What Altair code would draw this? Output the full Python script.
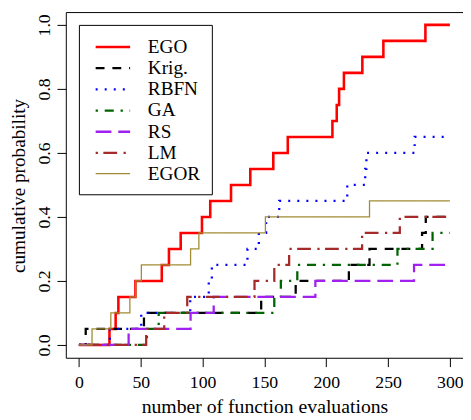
import altair as alt
import pandas as pd

# ---- data ----
series = ["EGO", "Krig.", "RBFN", "GA", "RS", "LM", "EGOR"]
colors = ["#ff0000", "#000000", "#0000ff", "#006400", "#a020f0", "#a52a2a", "#a08c32"]
dashes = [[1, 0], [9, 8], [2, 7.2], [2.3, 6.9, 9.2, 6.9], [16, 7], [2.3, 5.5, 14, 6.5], [1, 0]]
widths = [2.6, 2.3, 2.3, 2.3, 2.3, 2.3, 1.3]

# cumulative probability levels (1 of 20 problems each)
levels = [0.05, 0.10, 0.15, 0.20, 0.25, 0.30, 0.35, 0.40, 0.45, 0.50,
          0.55, 0.60, 0.65, 0.70, 0.75, 0.80, 0.85, 0.90, 0.95, 1.00]

# number of function evaluations at which each level is reached
evals_ego = [24.7, 29.7, 31.9, 45.7, 67, 72.8, 82.3, 99.5, 106.2, 123, 138.6,
             157.2, 168.9, 205, 208.5, 210.4, 214.3, 229.2, 246.2, 280.2]
evals_krig = [5.5, 52.6, 147.4, 175.3, 218.3, 235, 277.5, 280.5]
evals_rbfn = [25, 50.4, 90, 105, 107.5, 136.3, 145.5, 151.4, 162, 217,
              231.5, 232.5, 271.5]
evals_ga = [55, 64.5, 158, 163.3, 176.6, 257.6, 286]
evals_rs = [40.2, 90.3, 109, 191.2, 271]
evals_lm = [54.4, 69, 87.6, 142, 158, 170, 229, 259.5]
evals_egor = [10.6, 25.8, 41.2, 46, 50.5, 90.3, 97, 150.8, 235]

x_max = 300
x_ticks = [0, 50, 100, 150, 200, 250, 300]
y_ticks = [0.0, 0.2, 0.4, 0.6, 0.8, 1.0]

all_evals = [evals_ego, evals_krig, evals_rbfn, evals_ga, evals_rs, evals_lm, evals_egor]

rows = []
for name, ev in zip(series, all_evals):
    rows.append({"method": name, "evals": 0, "prob": 0.0, "k": 0})
    for i, e in enumerate(ev):
        rows.append({"method": name, "evals": e, "prob": levels[i], "k": i + 1})
    rows.append({"method": name, "evals": x_max, "prob": levels[len(ev) - 1], "k": len(ev) + 1})
df = pd.DataFrame(rows)

FONT = "Liberation Serif"

legend = alt.Legend(
    orient="none", legendX=13.3, legendY=13, title=None,
    symbolType="M-1.75,0H1.75", symbolSize=400, symbolFillColor="transparent",
    symbolOffset=12,
    labelFont=FONT, labelFontSize=19.5, labelColor="black", labelOffset=24,
    padding=11, rowPadding=0.5, strokeColor="black", fillColor="white",
)

chart = alt.Chart(df).mark_line(interpolate="step-after", strokeCap="butt").encode(
    x=alt.X("evals:Q",
            scale=alt.Scale(domain=[-10.6, 310.6], nice=False, zero=False),
            axis=alt.Axis(values=x_ticks, title="number of function evaluations",
                          titleX=201.7, titleY=56, titleBaseline="alphabetic",
                          labelBaseline="alphabetic", labelPadding=21.5,
                          format="d")),
    y=alt.Y("prob:Q",
            scale=alt.Scale(domain=[-0.04, 1.04], nice=False, zero=False),
            axis=alt.Axis(values=y_ticks, format=".1f", title="cumulative probability",
                          labelAngle=-90, labelAlign="center", labelBaseline="alphabetic",
                          labelPadding=7.7, titleX=-41.5, titleY=176,
                          titleFontSize=19.5,
                          titleBaseline="alphabetic", titleAlign="center", titleAngle=270)),
    color=alt.Color("method:N", scale=alt.Scale(domain=series, range=colors), legend=legend),
    strokeDash=alt.StrokeDash("method:N", scale=alt.Scale(domain=series, range=dashes), legend=legend),
    strokeWidth=alt.StrokeWidth("method:N", scale=alt.Scale(type="ordinal", domain=series, range=widths), legend=legend),
    order="k:Q",
    detail="method:N",
).properties(
    width=403.3, height=351,
    autosize=alt.AutoSizeParams(type="none"),
    padding={"left": 58.7, "top": 1, "right": 0, "bottom": 57},
).configure(
    font=FONT,
).configure_view(
    stroke="black", strokeWidth=1,
).configure_axis(
    domain=False, grid=False, ticks=True, tickSize=9, tickColor="black", tickWidth=1,
    labelFont=FONT, labelFontSize=18, labelColor="black",
    titleFont=FONT, titleFontSize=20, titleFontWeight="normal", titleColor="black",
)

chart.save("out.html", embed_options={"renderer": "svg", "actions": False})
